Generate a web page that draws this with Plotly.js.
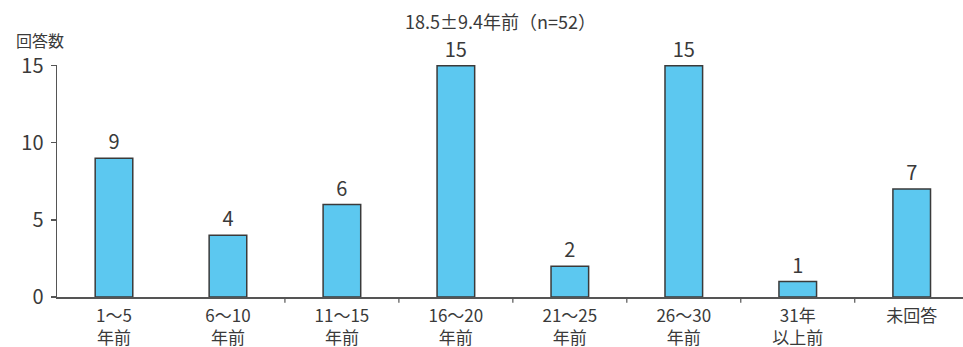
<!DOCTYPE html>
<html><head><meta charset="utf-8">
<script src="https://cdn.plot.ly/plotly-3.0.1.min.js"></script>
<style>html,body{margin:0;padding:0;background:#fff;}#chart{width:963px;height:347px;}</style>
</head><body><div id="chart"></div>
<script>
const categories = ["1〜5<br>年前","6〜10<br>年前","11〜15<br>年前","16〜20<br>年前","21〜25<br>年前","26〜30<br>年前","31年<br>以上前","未回答"];
const counts = [9, 4, 6, 15, 2, 15, 1, 7];
const titleText = "18.5±9.4年前（n=52）";
const yLabel = "回答数";
const font = "'Noto Sans CJK JP', 'Noto Sans', sans-serif";
const ink = "#3a3a3a";

const trace = {
  type: "bar",
  x: categories.map((c,i)=>i),
  y: counts,
  width: 0.33,
  marker: {color: "#5cc8f0", line: {color: "#3a3a3a", width: 1.5}},
  text: counts.map(String),
  textposition: "outside",
  textfont: {family: font, size: 20, color: ink},
  cliponaxis: false,
  hoverinfo: "none"
};

const layout = {
  width: 963, height: 347,
  margin: {l: 57, r: 0, t: 65, b: 50},
  paper_bgcolor: "#fff", plot_bgcolor: "#fff",
  showlegend: false,
  font: {family: font, color: ink},
  xaxis: {
    type: "linear",
    range: [-0.5, 7.45],
    tickmode: "array",
    tickvals: categories.map((c,i)=>i),
    ticktext: categories,
    ticks: "", showgrid: false, zeroline: false,
    showline: true, linecolor: "#555", linewidth: 1.5,
    ticklabelstandoff: 3,
    tickfont: {family: font, size: 17, color: ink}
  },
  yaxis: {
    range: [0, 15.05],
    tickvals: [0, 5, 10, 15],
    ticks: "outside", ticklen: 5, tickcolor: "#555", tickwidth: 1.2,
    showgrid: false, zeroline: false,
    showline: true, linecolor: "#555", linewidth: 1.5,
    ticklabelstandoff: 3,
    tickfont: {family: font, size: 20, color: ink}
  },
  shapes: [1.5,2.5,3.5,4.5,5.5,6.5].map(v => ({
    type: "line", xref: "x", yref: "paper", x0: v, x1: v, y0: 0, y1: -0.025,
    line: {color: "#555", width: 1.2}
  })),
  annotations: [
    {text: titleText, xref: "paper", yref: "paper", x: 0.49, xanchor: "center", y: 1, yshift: 44, yanchor: "middle",
     showarrow: false, font: {family: font, size: 18, color: ink}},
    {text: yLabel, xref: "paper", yref: "paper", x: 0, xanchor: "center", xshift: -17, y: 1, yshift: 25, yanchor: "middle",
     showarrow: false, font: {family: font, size: 16, color: ink}}
  ]
};

Plotly.newPlot("chart", [trace], layout, {staticPlot: true});
</script></body></html>
